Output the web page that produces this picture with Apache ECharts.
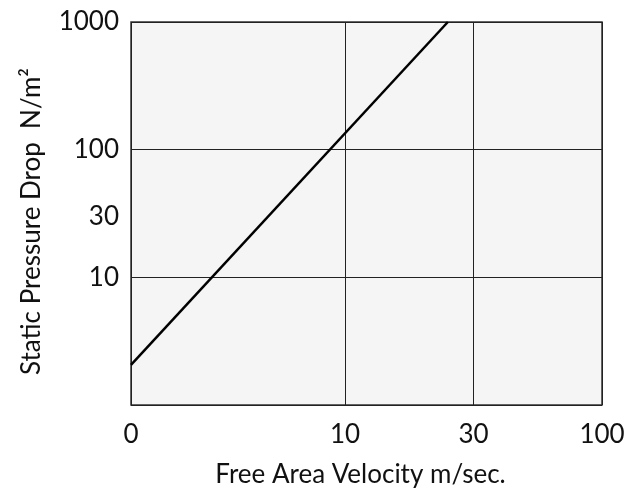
<!DOCTYPE html>
<html>
<head>
<meta charset="utf-8">
<script src="https://cdn.jsdelivr.net/npm/echarts@6/dist/echarts.min.js"></script>
<style>
html,body{margin:0;padding:0;background:#fff;}
#chart{width:644px;height:489px;}
</style>
</head>
<body>
<div id="chart"></div>
<script>
// X axis tick values (velocity, m/sec) and their labels
const xTickValues = [0, 10, 30, 100];
const xTickLabels = ['0', '10', '30', '100'];
// relative axis position of each x tick (non-uniform axis, as in reference)
const xTickPositions = [0, 5, 8, 11];
// Y axis (log) label values
const yLabelValues = [10, 30, 100, 1000];
const yLineValues = [1, 10, 100, 1000];
// Series: static pressure drop vs free area velocity
const velocity = [0, 26];
const pressure = [2.06, 1000];

function velToPos(v) {
  for (let i = 0; i < xTickValues.length - 1; i++) {
    const a = xTickValues[i], b = xTickValues[i + 1];
    if (v <= b || i === xTickValues.length - 2) {
      const t = (v - a) / (b - a);
      return xTickPositions[i] + t * (xTickPositions[i + 1] - xTickPositions[i]);
    }
  }
}

const lineData = velocity.map((v, i) => [velToPos(v), pressure[i]]);
const font = 'Lato';

const chart = echarts.init(document.getElementById('chart'), null, {renderer: 'canvas'});
chart.setOption({
  animation: false,
  backgroundColor: '#ffffff',
  grid: {
    left: 131, right: 42, top: 22, bottom: 84,
    containLabel: false, outerBoundsMode: 'none',
    show: true, backgroundColor: '#f5f5f5', borderColor: '#333', borderWidth: 1.5
  },
  xAxis: {
    type: 'value',
    min: 0, max: xTickPositions[xTickPositions.length - 1],
    name: 'Free Area Velocity m/sec.',
    nameLocation: 'middle', nameGap: 57,
    nameTextStyle: {fontFamily: font, fontSize: 26, color: '#111', padding: [0, 12, 0, 0]},
    axisLine: {show: false},
    axisTick: {show: false, customValues: xTickPositions},
    axisLabel: {
      customValues: xTickPositions,
      formatter: function (v) {
        const i = xTickPositions.indexOf(v);
        return i >= 0 ? xTickLabels[i] : '';
      },
      fontFamily: font, fontSize: 26, color: '#111', margin: 17
    },
    splitLine: {show: true, lineStyle: {color: '#222', width: 1}}
  },
  yAxis: {
    type: 'log', logBase: 10, min: 1, max: 1000,
    name: 'Static Pressure Drop  N/m²',
    nameLocation: 'middle', nameGap: 86,
    nameTextStyle: {fontFamily: font, fontSize: 26, color: '#111', padding: [0, 16, 0, 0]},
    axisLine: {show: false},
    axisTick: {show: false, customValues: yLineValues},
    axisLabel: {
      customValues: yLabelValues,
      formatter: function (v) { return String(Math.round(v)); },
      fontFamily: font, fontSize: 26, color: '#111', margin: 12
    },
    splitLine: {show: true, lineStyle: {color: '#222', width: 1}}
  },
  series: [{
    type: 'line',
    data: lineData,
    showSymbol: false,
    lineStyle: {color: '#000', width: 2.5},
    clip: true
  }]
});
</script>
</body>
</html>
